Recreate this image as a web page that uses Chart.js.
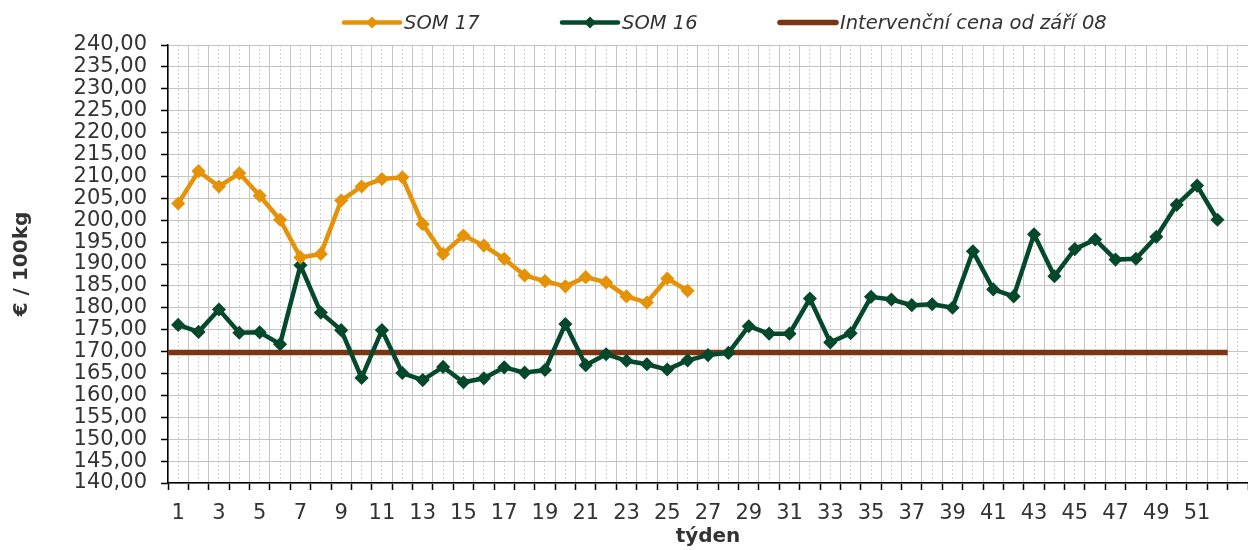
<!DOCTYPE html>
<html>
<head>
<meta charset="utf-8">
<title>SOM 16 / SOM 17</title>
<script src="https://cdn.jsdelivr.net/npm/chart.js@4"></script>
<style>
  html, body { margin: 0; padding: 0; background: #fff; }
  canvas { display: block; }
</style>
</head>
<body>
<canvas id="chart" width="1248" height="550"></canvas>
<script>
// týdny (weeks)
const weeks = [1, 2, 3, 4, 5, 6, 7, 8, 9, 10, 11, 12, 13, 14, 15, 16, 17, 18, 19, 20, 21, 22, 23, 24, 25, 26,
  27, 28, 29, 30, 31, 32, 33, 34, 35, 36, 37, 38, 39, 40, 41, 42, 43, 44, 45, 46, 47, 48, 49, 50, 51, 52];

// €/100kg
const som17 = [203.8, 211.2, 207.7, 210.7, 205.6, 200.1, 191.5, 192.3, 204.5, 207.7, 209.4, 209.8, 199.1,
  192.3, 196.5, 194.2, 191.2, 187.4, 186.1, 184.9, 187.0, 185.8, 182.6, 181.2, 186.7, 183.9];

const som16 = [176.1, 174.5, 179.6, 174.3, 174.4, 171.7, 189.7, 178.9, 174.9, 164.0, 174.9, 165.1, 163.5,
  166.5, 163.0, 163.9, 166.4, 165.2, 165.8, 176.3, 166.9, 169.4, 167.9, 167.1, 165.9, 168.0,
  169.2, 169.7, 175.8, 174.1, 174.1, 182.1, 172.1, 174.2, 182.5, 181.9, 180.6, 180.8, 180.0,
  192.9, 184.2, 182.6, 196.8, 187.2, 193.4, 195.6, 191.0, 191.2, 196.2, 203.5, 207.9, 200.1];

// intervenční cena, platí přes celý rok (od začátku týdne 1 do konce týdne 52)
const interventionPrice = 169.8;
const interventionWeeks = [0.5, 52.5];

const weekTickLabels = [1, 3, 5, 7, 9, 11, 13, 15, 17, 19, 21, 23, 25, 27, 29, 31, 33, 35, 37, 39, 41, 43, 45, 47, 49, 51];

const ORANGE = "#E59207";
const GREEN = "#05492C";
const BROWN = "#7A3512";

// grid: plné čáry mezi týdny, čárkované uprostřed týdne
const xGridValues = [];
for (let v = 0.5; v <= 53.5; v += 0.5) xGridValues.push(v);

const isBoundary = v => !Number.isInteger(v);

Chart.defaults.font.family = '"DejaVu Sans", Verdana, sans-serif';
Chart.defaults.color = "#333";

// legenda ve stylu Excelu
const excelLegend = {
  id: "excelLegend",
  afterDraw(chart, args, opts) {
    const ctx = chart.ctx;
    ctx.save();
    ctx.font = opts.font;
    ctx.textBaseline = "middle";
    let x = opts.left;
    const y = opts.y;
    chart.data.datasets.forEach(ds => {
      ctx.strokeStyle = ds.borderColor;
      ctx.lineWidth = ds.borderWidth;
      ctx.lineCap = "round";
      ctx.beginPath();
      ctx.moveTo(x, y);
      ctx.lineTo(x + opts.lineLen, y);
      ctx.stroke();
      if (ds.pointRadius > 0) {
        const cx = x + opts.lineLen / 2;
        const r = opts.markerRadius;
        ctx.fillStyle = ds.borderColor;
        ctx.beginPath();
        ctx.moveTo(cx, y - r);
        ctx.lineTo(cx + r, y);
        ctx.lineTo(cx, y + r);
        ctx.lineTo(cx - r, y);
        ctx.closePath();
        ctx.fill();
      }
      ctx.fillStyle = "#333";
      ctx.fillText(ds.label, x + opts.lineLen + opts.gap, y + 1);
      x += opts.step;
    });
    ctx.restore();
  }
};

const ctx = document.getElementById("chart").getContext("2d");

new Chart(ctx, {
  type: "line",
  data: {
    datasets: [
      {
        label: "SOM 17",
        data: som17.map((v, i) => ({ x: weeks[i], y: v })),
        borderColor: ORANGE,
        backgroundColor: ORANGE,
        borderWidth: 4.5,
        pointStyle: "rectRot",
        pointRadius: 6,
        pointBorderWidth: 1.5,
        tension: 0,
      },
      {
        label: "SOM 16",
        data: som16.map((v, i) => ({ x: weeks[i], y: v })),
        borderColor: GREEN,
        backgroundColor: GREEN,
        borderWidth: 4.5,
        pointStyle: "rectRot",
        pointRadius: 6,
        pointBorderWidth: 1.5,
        tension: 0,
      },
      {
        label: "Intervenční cena od září 08",
        data: interventionWeeks.map(w => ({ x: w, y: interventionPrice })),
        borderColor: BROWN,
        backgroundColor: BROWN,
        borderWidth: 5.5,
        borderCapStyle: "butt",
        pointRadius: 0,
        tension: 0,
      },
    ],
  },
  options: {
    responsive: false,
    animation: false,
    layout: { autoPadding: false, padding: { top: 45, left: 0, right: 0, bottom: 0 } },
    plugins: {
      legend: { display: false },
      tooltip: { enabled: false },
      excelLegend: {
        left: 344,
        step: 218,
        y: 22.5,
        lineLen: 56,
        gap: 4,
        markerRadius: 6,
        font: 'italic 19.5px "DejaVu Sans", Verdana, sans-serif',
      },
    },
    scales: {
      x: {
        type: "linear",
        min: 0.5,
        max: 53.5,
        afterBuildTicks: scale => {
          scale.ticks = xGridValues.map(v => ({ value: v }));
        },
        afterFit: scale => {
          scale.height = 67;
          scale.paddingLeft = 0;
          scale.paddingRight = 0;
        },
        ticks: {
          autoSkip: false,
          maxRotation: 0,
          padding: 0,
          font: { size: 21, lineHeight: 2.25 },
          color: "#333",
          callback: v => (weekTickLabels.includes(v) ? String(v) : ""),
        },
        grid: {
          color: c => (isBoundary(c.tick.value) ? "#c4c4c4" : "#d2d2d2"),
          lineWidth: 1,
          tickLength: 7,
          tickWidth: 1.5,
          tickColor: c => (isBoundary(c.tick.value) ? "#000" : "rgba(0,0,0,0)"),
        },
        border: {
          color: "#000",
          width: 1.5,
          dash: c => (c.tick && !isBoundary(c.tick.value) ? [2, 2] : []),
        },
        title: {
          display: true,
          text: "týden",
          font: { size: 20, weight: "bold" },
          color: "#333",
          padding: { top: 0, bottom: 1 },
        },
      },
      y: {
        min: 140,
        max: 240,
        afterFit: scale => {
          scale.width = 168;
        },
        ticks: {
          stepSize: 5,
          autoSkip: false,
          maxTicksLimit: 30,
          padding: 14,
          font: { size: 21 },
          color: "#333",
          callback: v => v.toFixed(2).replace(".", ","),
        },
        grid: {
          color: "#c4c4c4",
          lineWidth: 1,
          tickLength: 7,
          tickWidth: 1.5,
          tickColor: "#000",
        },
        border: {
          color: "#000",
          width: 1.5,
        },
        title: {
          display: true,
          text: "€ / 100kg",
          font: { size: 20, weight: "bold" },
          color: "#333",
          padding: { top: 10, bottom: 0 },
        },
      },
    },
  },
  plugins: [excelLegend],
});
</script>
</body>
</html>
